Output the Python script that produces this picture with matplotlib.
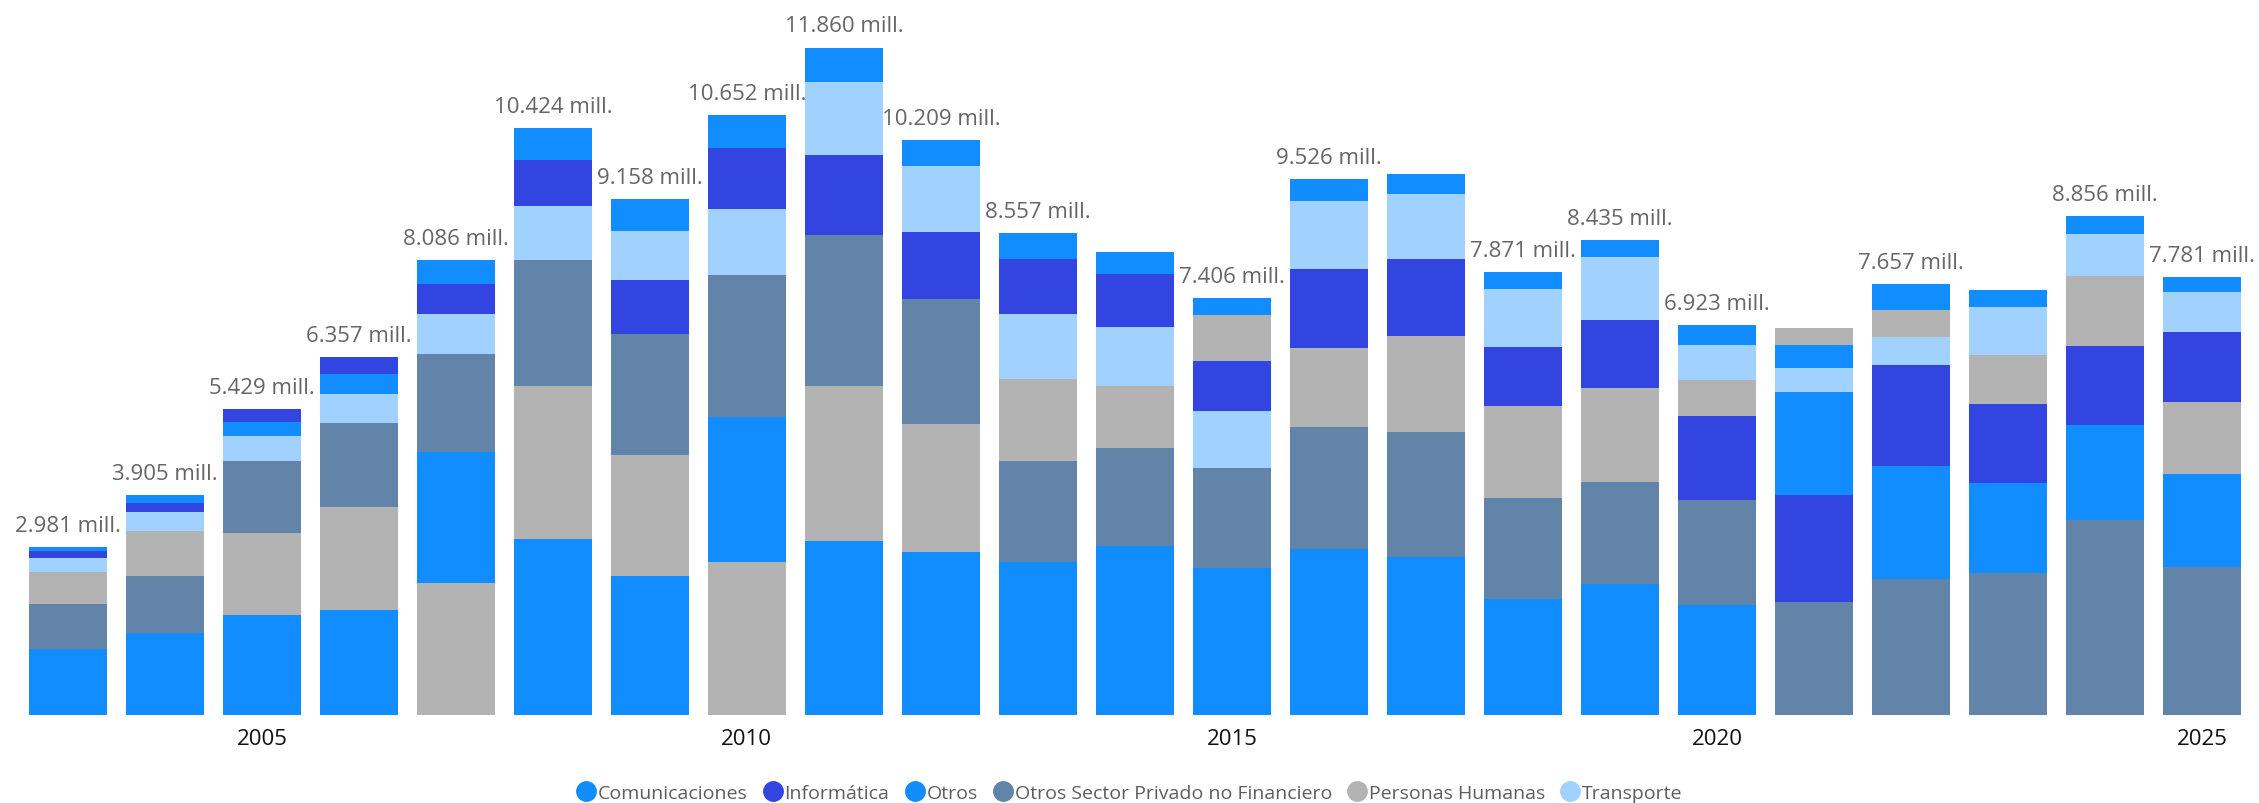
import matplotlib.pyplot as plt
from matplotlib.lines import Line2D

plt.rcParams['font.family'] = ['Open Sans', 'DejaVu Sans']

# Years on the category axis
years = list(range(2003, 2026))

# Series values (millions)
comunicaciones = [1161, 1456, 1770, 1863, 2330, 3116, 2463, 2570, 3080, 2885, 2714, 2996,
                  2614, 2938, 2806, 2060, 2318, 1948, 1829, 2011, 1597, 1705, 1659]
informatica = [124, 154, 232, 298, 521, 819, 960, 1084, 1424, 1192, 985, 944,
               886, 1407, 1374, 1051, 1217, 1490, 1904, 1796, 1407, 1391, 1242]
otros = [74, 151, 248, 356, 439, 571, 563, 571, 621, 463, 455, 397,
         306, 389, 356, 306, 298, 356, 414, 463, 306, 306, 265]
otros_spnf = [803, 1010, 1283, 1490, 1738, 2235, 2145, 2537, 2682, 2226, 1796, 1746,
              1771, 2169, 2218, 1790, 1821, 1862, 2003, 2410, 2516, 3451, 2620]
personas = [571, 795, 1457, 1829, 2340, 2723, 2150, 2715, 2770, 2276, 1457, 1101,
            819, 1415, 1705, 1638, 1664, 646, 298, 480, 869, 1242, 1283]
transporte = [248, 339, 439, 521, 718, 960, 877, 1175, 1283, 1167, 1150, 1043,
              1010, 1208, 1150, 1026, 1117, 621, 422, 497, 853, 761, 712]

# years whose total label is shown (others are hidden in the original)
labelled = [True, True, True, True, True, True, True, True, True, True, True, False,
            True, True, False, True, True, True, False, True, False, True, True]

series = [
    ("Comunicaciones", comunicaciones, "#118DFF"),
    ("Informática", informatica, "#3345E0"),
    ("Otros", otros, "#118DFF"),
    ("Otros Sector Privado no Financiero", otros_spnf, "#6184A8"),
    ("Personas Humanas", personas, "#B3B3B3"),
    ("Transporte", transporte, "#A0D1FF"),
]

fig = plt.figure(figsize=(22.59, 8.04), dpi=100)
ax = fig.add_axes([0.00854, 0.110, 0.98770, 0.89])

for i, year in enumerate(years):
    # each bar stacks its segments largest at the bottom
    parts = sorted([(vals[i], color) for name, vals, color in series], key=lambda p: -p[0])
    bottom = 0
    for value, color in parts:
        ax.bar(year, value, bottom=bottom, width=0.8, color=color, linewidth=0)
        bottom += value
    if labelled[i]:
        text = f"{int(round(bottom)):,}".replace(",", ".") + " mill."
        ax.annotate(text, (year, bottom), xytext=(0, 11.7), textcoords="offset points",
                    ha="center", va="baseline", fontsize=16, color="#666666")

ax.set_xlim(2002.5, 2025.5)
ax.set_ylim(0, 0.89 * 804 * 17.78)
ax.set_xticks([2005, 2010, 2015, 2020, 2025])
ax.tick_params(axis="x", length=0, pad=10, labelsize=16, labelcolor="#111111")
ax.set_yticks([])
for spine in ax.spines.values():
    spine.set_visible(False)

handles = [Line2D([], [], marker="o", linestyle="", markersize=14,
                  markerfacecolor=color, markeredgecolor=color)
           for name, vals, color in series]
fig.legend(handles, [name for name, vals, color in series], loc="center",
           bbox_to_anchor=(0.5, 0.0128), ncol=6, frameon=False, fontsize=14,
           labelcolor="#605E5C", handlelength=1.0, handletextpad=0.1,
           columnspacing=0.8, borderpad=0)

fig.savefig("out.png", dpi=100)
